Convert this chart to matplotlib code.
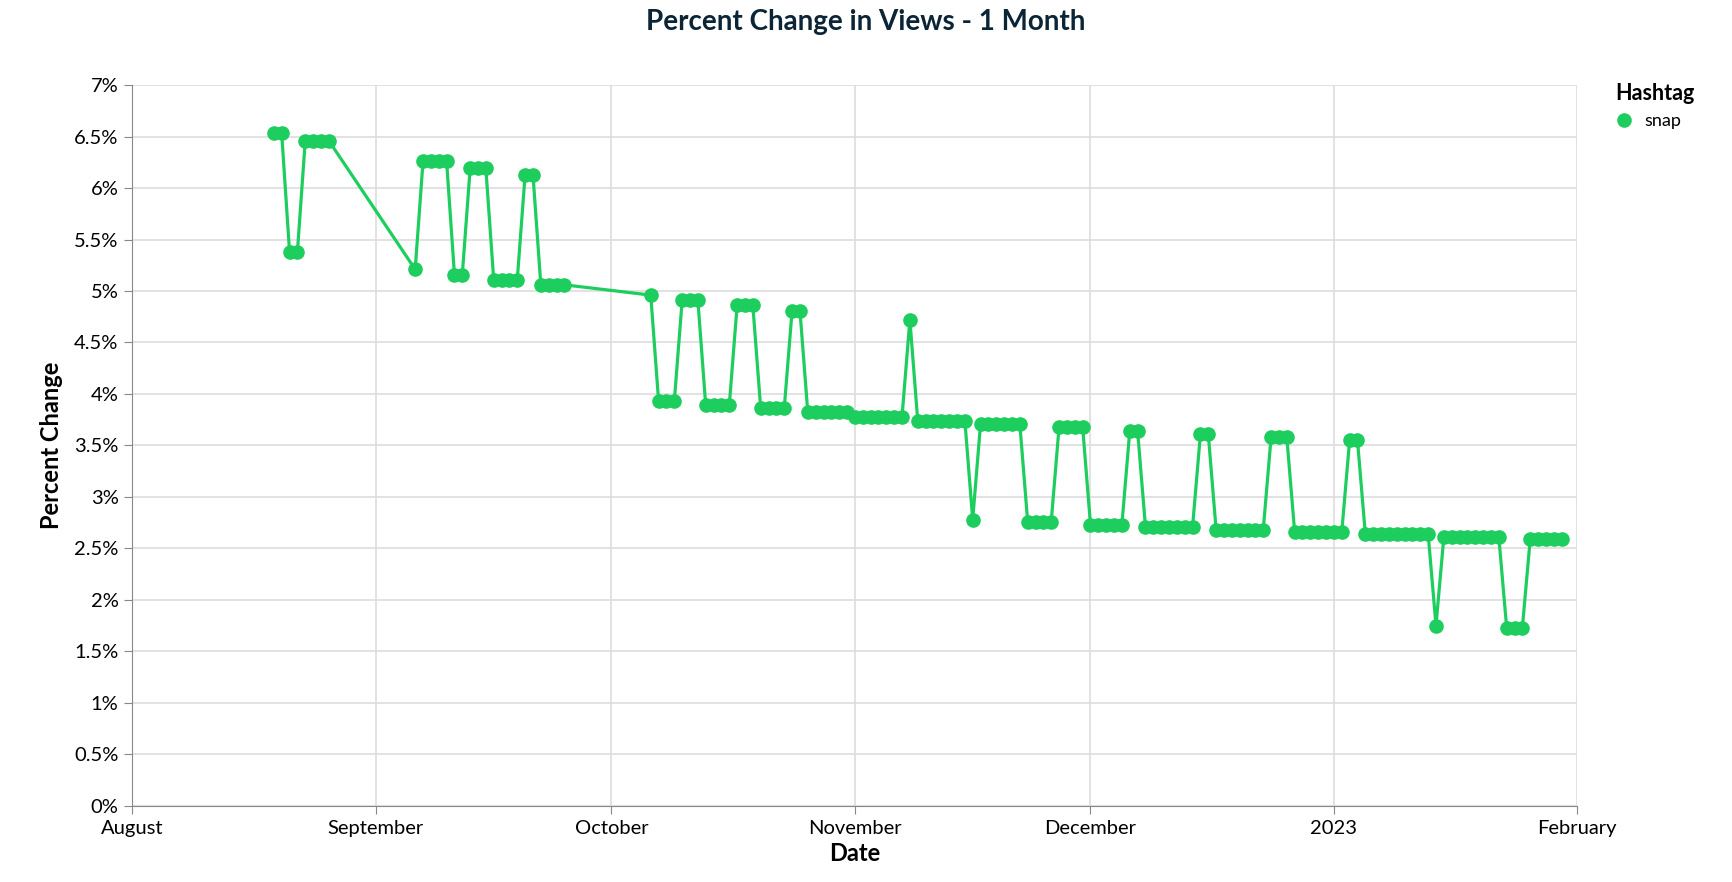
import matplotlib.pyplot as plt
from matplotlib.ticker import FuncFormatter, MultipleLocator
import pandas as pd

# three observed stretches of daily data
seg1_start = "2022-08-19"
seg1_values = [6.53, 6.53, 5.38, 5.38, 6.46, 6.46, 6.46, 6.46]

seg2_start = "2022-09-06"
seg2_values = [5.21, 6.26, 6.26, 6.26, 6.26, 5.16, 5.16, 6.19, 6.19, 6.19,
               5.11, 5.11, 5.11, 5.11, 6.13, 6.13, 5.06, 5.06, 5.06, 5.06]

seg3_start = "2022-10-06"
seg3_values = [4.96, 3.93, 3.93, 3.93, 4.91, 4.91, 4.91, 3.89, 3.89, 3.89, 3.89,
               4.86, 4.86, 4.86, 3.86, 3.86, 3.86, 3.86, 4.81, 4.81,
               3.82, 3.82, 3.82, 3.82, 3.82, 3.82,
               3.78, 3.78, 3.78, 3.78, 3.78, 3.78, 3.78, 4.72,
               3.74, 3.74, 3.74, 3.74, 3.74, 3.74, 3.74, 2.78,
               3.71, 3.71, 3.71, 3.71, 3.71, 3.71, 2.76, 2.76, 2.76, 2.76,
               3.68, 3.68, 3.68, 3.68, 2.73, 2.73, 2.73, 2.73, 2.73, 3.64, 3.64,
               2.71, 2.71, 2.71, 2.71, 2.71, 2.71, 2.71, 3.61, 3.61,
               2.68, 2.68, 2.68, 2.68, 2.68, 2.68, 2.68, 3.58, 3.58, 3.58,
               2.66, 2.66, 2.66, 2.66, 2.66, 2.66, 2.66, 3.55, 3.55,
               2.64, 2.64, 2.64, 2.64, 2.64, 2.64, 2.64, 2.64, 2.64, 1.75,
               2.61, 2.61, 2.61, 2.61, 2.61, 2.61, 2.61, 2.61, 1.73, 1.73, 1.73,
               2.59, 2.59, 2.59, 2.59, 2.59]

x_ticks = ["2022-08-01", "2022-09-01", "2022-10-01", "2022-11-01",
           "2022-12-01", "2023-01-01", "2023-02-01"]
x_labels = ["August", "September", "October", "November", "December", "2023", "February"]

dates, values = [], []
for start, vals in [(seg1_start, seg1_values), (seg2_start, seg2_values), (seg3_start, seg3_values)]:
    dates += list(pd.date_range(start, periods=len(vals), freq="D"))
    values += vals

green = "#1DCE5E"
plt.rcParams["font.family"] = "Lato"

fig = plt.figure(figsize=(17.32, 8.82), dpi=100)
ax = fig.add_axes([0.0765, 0.0865, 0.8342, 0.817])
ax.plot(dates, values, color=green, linewidth=2.3, marker="o", markersize=9.5,
        label="snap", zorder=3)

ax.set_xlim(pd.Timestamp(x_ticks[0]), pd.Timestamp(x_ticks[-1]))
ax.set_ylim(0, 7)
ax.set_xticks([pd.Timestamp(t) for t in x_ticks])
ax.set_xticklabels(x_labels)
ax.yaxis.set_major_locator(MultipleLocator(0.5))
ax.yaxis.set_major_formatter(FuncFormatter(lambda v, p: f"{v:g}%"))
ax.tick_params(labelsize=14.5, color="#888888", length=6, pad=4)
ax.grid(True, color="#dddddd", linewidth=1.2)
ax.set_axisbelow(True)
for s in ["top", "right"]:
    ax.spines[s].set_visible(False)
for s in ["left", "bottom"]:
    ax.spines[s].set_color("#888888")

ax.set_xlabel("Date", fontsize=17, fontweight="bold", labelpad=4)
ax.set_ylabel("Percent Change", fontsize=17, fontweight="bold", labelpad=8)
fig.suptitle("Percent Change in Views - 1 Month", fontsize=20, fontweight="bold",
             color="#0b2436", y=0.99)

leg = ax.legend(loc="upper left", bbox_to_anchor=(1.015, 1.025), frameon=False,
                title="Hashtag", fontsize=13, markerscale=1.0, handlelength=1,
                handletextpad=0.6)
leg.get_title().set_fontweight("bold")
leg.get_title().set_fontsize(15.5)
leg._legend_box.align = "left"
for h in leg.legend_handles:
    h.set_linestyle("none")

fig.savefig("out.png", dpi=100)
